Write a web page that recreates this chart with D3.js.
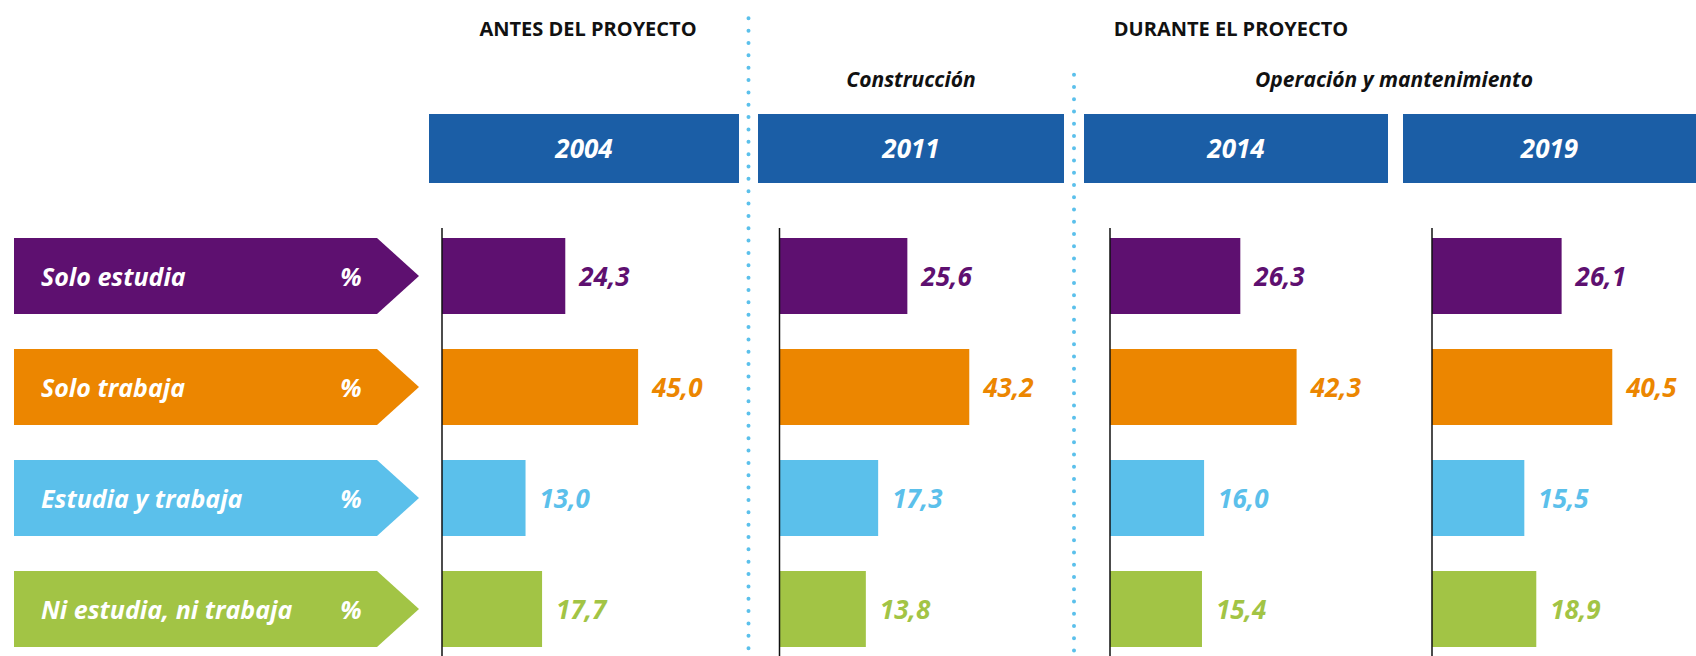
<!DOCTYPE html>
<html>
<head>
<meta charset="utf-8">
<script src="https://cdn.jsdelivr.net/npm/d3@7"></script>
<style>
  html, body { margin: 0; padding: 0; background: #ffffff; }
  svg { display: block; }
  text { font-family: "Open Sans", "Noto Sans", sans-serif; }
</style>
</head>
<body>
<svg id="chart" width="1696" height="656"></svg>
<script>
// ---- data ----
const categories = ["Solo estudia", "Solo trabaja", "Estudia y trabaja", "Ni estudia, ni trabaja"];
const categoryColors = ["#5e1070", "#ec8600", "#5bc0eb", "#a2c445"];
const years = ["2004", "2011", "2014", "2019"];
const values2004 = [24.3, 45.0, 13.0, 17.7];
const values2011 = [25.6, 43.2, 17.3, 13.8];
const values2014 = [26.3, 42.3, 16.0, 15.4];
const values2019 = [26.1, 40.5, 15.5, 18.9];
const seriesValues = [values2004, values2011, values2014, values2019];
const stageLabels = ["ANTES DEL PROYECTO", "DURANTE EL PROYECTO"];
const phaseLabels = ["Construcción", "Operación y mantenimiento"];
const unitLabel = "%";

// ---- layout ----
const W = 1696, H = 656;
const headerBoxes = [[429, 739], [758, 1064], [1084, 1388], [1403, 1696]];
const axisX = [442, 779.5, 1110, 1432];
const stageCenters = [588, 1231];
const phaseCenters = [911, 1394];
const separators = [{x: 748.5, y0: 18.3, gap: 12.35}, {x: 1074, y0: 74.7, gap: 12.25}];
const headerBlue = "#1b5ea6";
const fmt = v => d3.format(".1f")(v).replace(".", ",");

const svg = d3.select("#chart");

// row positions for the four categories
const y = d3.scaleBand().domain(categories).range([238, 647]).paddingInner(35 / 111).paddingOuter(0);
// bar length measured from each panel's baseline axis
const x = d3.scaleLinear().domain([0, 45]).range([37.8, 196.1]);

// dotted separators between project stages
separators.forEach(s => {
  svg.append("line")
    .attr("x1", s.x).attr("x2", s.x)
    .attr("y1", s.y0).attr("y2", H + 4)
    .attr("stroke", "#5bc0eb")
    .attr("stroke-width", 4)
    .attr("stroke-linecap", "round")
    .attr("stroke-dasharray", `0 ${s.gap}`);
});

// stage titles
svg.selectAll("text.stage").data(stageLabels).join("text")
  .attr("class", "stage")
  .attr("x", (d, i) => stageCenters[i]).attr("y", 36)
  .attr("text-anchor", "middle")
  .attr("font-size", 20).attr("font-weight", 700)
  .attr("fill", "#111")
  .text(d => d);

// phase subtitles
svg.selectAll("text.phase").data(phaseLabels).join("text")
  .attr("class", "phase")
  .attr("x", (d, i) => phaseCenters[i]).attr("y", 87)
  .attr("text-anchor", "middle")
  .attr("font-size", 21).attr("font-weight", 700).attr("font-style", "italic")
  .attr("fill", "#111")
  .text(d => d);

// year header boxes
const heads = svg.selectAll("g.year").data(years).join("g").attr("class", "year");
heads.append("rect")
  .attr("x", (d, i) => headerBoxes[i][0]).attr("y", 114)
  .attr("width", (d, i) => headerBoxes[i][1] - headerBoxes[i][0]).attr("height", 69)
  .attr("fill", headerBlue);
heads.append("text")
  .attr("x", (d, i) => (headerBoxes[i][0] + headerBoxes[i][1]) / 2).attr("y", 158)
  .attr("text-anchor", "middle")
  .attr("font-size", 26).attr("font-weight", 700).attr("font-style", "italic")
  .attr("fill", "#ffffff")
  .text(d => d);

// category arrows on the left
const bw = y.bandwidth();
const arrows = svg.selectAll("g.cat").data(categories).join("g").attr("class", "cat");
arrows.append("path")
  .attr("d", d => {
    const t = y(d), b = t + bw, m = t + bw / 2;
    return `M14,${t} L377,${t} L419,${m} L377,${b} L14,${b} Z`;
  })
  .attr("fill", (d, i) => categoryColors[i]);
arrows.append("text")
  .attr("x", 41).attr("y", d => y(d) + bw / 2 + 10)
  .attr("font-size", 25).attr("font-weight", 700).attr("font-style", "italic")
  .attr("fill", "#ffffff")
  .text(d => d);
arrows.append("text")
  .attr("x", 351).attr("y", d => y(d) + bw / 2 + 10)
  .attr("text-anchor", "middle")
  .attr("font-size", 25).attr("font-weight", 700).attr("font-style", "italic")
  .attr("fill", "#ffffff")
  .text(unitLabel);

// one bar panel per year
years.forEach((yr, p) => {
  const x0 = axisX[p];
  const g = svg.append("g").attr("transform", `translate(${x0},0)`);
  const rows = categories.map((c, i) => ({c, i, v: seriesValues[p][i]}));

  g.selectAll("rect").data(rows).join("rect")
    .attr("x", 0).attr("y", d => y(d.c))
    .attr("width", d => x(d.v)).attr("height", bw)
    .attr("fill", d => categoryColors[d.i]);

  g.selectAll("text").data(rows).join("text")
    .attr("x", d => x(d.v) + 14).attr("y", d => y(d.c) + bw / 2 + 10)
    .attr("font-size", 26).attr("font-weight", 700).attr("font-style", "italic")
    .attr("fill", d => categoryColors[d.i])
    .text(d => fmt(d.v));

  g.append("line")
    .attr("x1", 0).attr("x2", 0).attr("y1", 228).attr("y2", H)
    .attr("stroke", "#111").attr("stroke-width", 1.5);
});
</script>
</body>
</html>
